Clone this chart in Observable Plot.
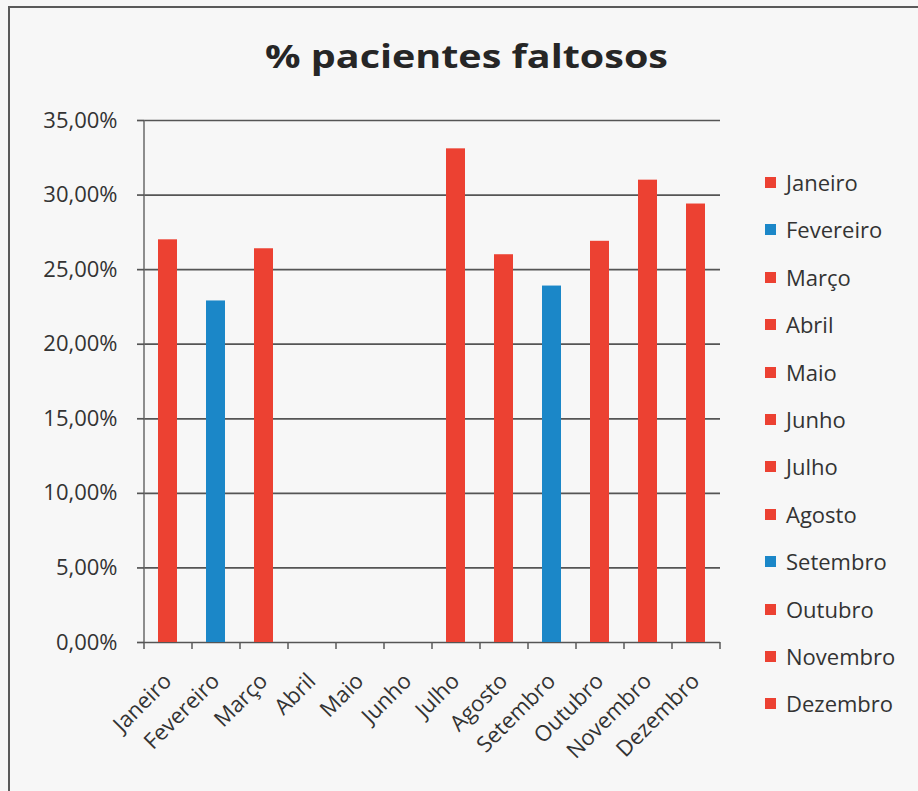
<!DOCTYPE html>
<html>
<head>
<meta charset="utf-8">
<script src="https://cdn.jsdelivr.net/npm/d3@7"></script>
<script src="https://cdn.jsdelivr.net/npm/@observablehq/plot@0.6"></script>
<style>
  html, body { margin: 0; padding: 0; background: #f7f7f7; }
  #wrap { position: relative; width: 918px; height: 791px; overflow: hidden; font-family: "Open Sans", Lato, sans-serif; }
  #frame { position: absolute; left: 8px; top: 6px; width: 940px; height: 820px; border: 2px solid #5a5a5a; box-sizing: border-box; }
  #title { position: absolute; left: 466px; top: 33px; white-space: nowrap; font-size: 33px; font-weight: 700; color: #262626; transform-origin: 0 0; }
  #chart { position: absolute; left: 0; top: 0; }
  #legend { position: absolute; left: 765px; top: 168px; }
  .item { height: 47.4px; display: flex; align-items: flex-start; font-size: 22px; color: #333; line-height: 28px; }
  .sw { width: 11px; height: 11px; margin-top: 9px; margin-right: 10px; }
</style>
</head>
<body>
<div id="wrap">
  <div id="frame"></div>
  <div id="chart"></div>
  <div id="title">% pacientes faltosos</div>
  <div id="legend"></div>
</div>
<script>
const months = ["Janeiro","Fevereiro","Março","Abril","Maio","Junho","Julho","Agosto","Setembro","Outubro","Novembro","Dezembro"];
const values = [0.270, 0.229, 0.264, null, null, null, 0.331, 0.260, 0.239, 0.269, 0.310, 0.294];
const colors = ["#ec4132","#1b87c8","#ec4132","#ec4132","#ec4132","#ec4132","#ec4132","#ec4132","#1b87c8","#ec4132","#ec4132","#ec4132"];
const yTicks = [0, 0.05, 0.10, 0.15, 0.20, 0.25, 0.30, 0.35];

const data = months.map((m, i) => ({month: m, value: values[i], color: colors[i]}));
const fmt = d => (d * 100).toFixed(2).replace(".", ",") + "%";

// boundary ticks between categories on the x axis, and the y axis line
const boundaryTicks = (index, scales, channels, dims) => {
  const g = d3.create("svg:g");
  const x0 = dims.marginLeft, x1 = dims.width - dims.marginRight;
  const y0 = scales.y(0);
  const n = months.length;
  for (let i = 0; i <= n; i++) {
    const x = x0 + (x1 - x0) * i / n;
    g.append("line").attr("x1", x).attr("x2", x).attr("y1", y0).attr("y2", y0 + 7)
      .attr("stroke", "#5a5a5a").attr("stroke-width", 1.5);
  }
  g.append("line").attr("x1", x0).attr("x2", x0).attr("y1", scales.y(yTicks[yTicks.length-1])).attr("y2", y0)
    .attr("stroke", "#6a6a6a").attr("stroke-width", 1.5);
  return g.node();
};

const plot = Plot.plot({
  width: 918,
  height: 791,
  marginLeft: 144,
  marginRight: 198,
  marginTop: 120,
  marginBottom: 149,
  style: { background: "transparent", fontFamily: "'Open Sans', Lato, sans-serif", color: "#333" },
  x: { domain: months, paddingInner: 0.6, paddingOuter: 0.3, label: null },
  y: { domain: [0, 0.35], label: null },
  marks: [
    Plot.ruleY(yTicks, { stroke: "#555", strokeWidth: 1.7 }),
    Plot.barY(data.filter(d => d.value != null), { x: "month", y: "value", fill: "color" }),
    boundaryTicks,
    Plot.axisY({ ticks: yTicks, tickFormat: fmt, tickSize: 7, tickPadding: 20, fontSize: 22, stroke: "#555", strokeWidth: 1.7, fill: "#333" }),
    Plot.axisX({ tickSize: 0, tickRotate: -45, tickPadding: 35, fontSize: 22, fill: "#333" })
  ]
});
document.getElementById("chart").appendChild(plot);

const legend = document.getElementById("legend");
months.forEach((m, i) => {
  const it = document.createElement("div");
  it.className = "item";
  it.innerHTML = `<div class="sw" style="background:${colors[i]}"></div><span>${m}</span>`;
  legend.appendChild(it);
});

// stretch the title to the reference's width, centred
const title = document.getElementById("title");
const w = title.getBoundingClientRect().width;
const sx = 403 / w;
title.style.left = (466 - 403 / 2) + "px";
title.style.transform = `scaleX(${sx})`;
</script>
</body>
</html>
